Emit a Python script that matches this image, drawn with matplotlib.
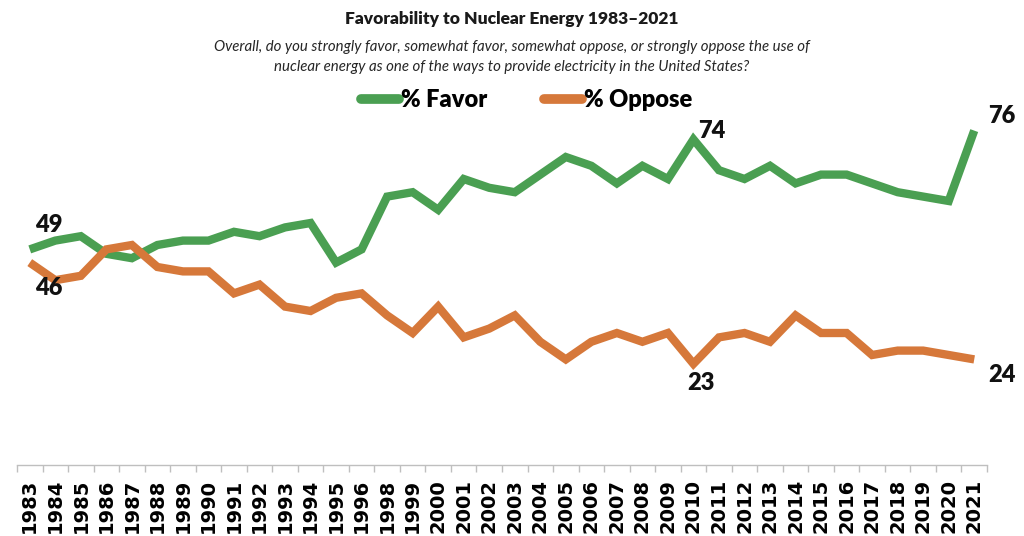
import matplotlib.pyplot as plt
import numpy as np

# Survey years (no 1997 survey)
years = ['1983', '1984', '1985', '1986', '1987', '1988', '1989', '1990', '1991', '1992',
         '1993', '1994', '1995', '1996', '1998', '1999', '2000', '2001', '2002', '2003',
         '2004', '2005', '2006', '2007', '2008', '2009', '2010', '2011', '2012', '2013',
         '2014', '2015', '2016', '2017', '2018', '2019', '2020', '2021']

favor = [49, 51, 52, 48, 47, 50, 51, 51, 53, 52, 54, 55, 46, 49,
         61, 62, 58, 65, 63, 62,
         66, 70, 68, 64, 68, 65, 74, 67, 65, 68, 64, 66, 66, 64, 62, 61, 60, 76]

oppose = [46, 42, 43, 49, 50, 45, 44, 44, 39, 41, 36, 35, 38, 39,
          34, 30, 36, 29, 31, 34,
          28, 24, 28, 30, 28, 30, 23, 29, 30, 28, 34, 30, 30, 25, 26, 26, 25, 24]

green = '#4A9F52'
orange = '#D6783A'

title = 'Favorability to Nuclear Energy 1983\u20132021'
subtitle = ('Overall, do you strongly favor, somewhat favor, somewhat oppose, or strongly oppose the use of\n'
            'nuclear energy as one of the ways to provide electricity in the United States?')

fig = plt.figure(figsize=(10.24, 5.36), dpi=100)
W, H = 1024, 536
ax = fig.add_axes([17 / W, 71 / H, 970 / W, 352 / H])

x = np.arange(len(years))
ax.plot(x, favor, color=green, lw=6, solid_joinstyle='miter', solid_capstyle='butt', label='% Favor')
ax.plot(x, oppose, color=orange, lw=6, solid_joinstyle='miter', solid_capstyle='butt', label='% Oppose')

ax.set_xlim(-0.5, len(years) - 0.5)
ax.set_ylim(0, 80)

for s in ['top', 'right', 'left']:
    ax.spines[s].set_visible(False)
ax.spines['bottom'].set_color('#BFBFBF')
ax.spines['bottom'].set_linewidth(1)
ax.set_yticks([])

ax.set_xticks(x)
ax.set_xticklabels(years, rotation=90, fontsize=14, fontweight='bold', family='DejaVu Sans')
ax.tick_params(axis='x', which='major', length=0, pad=10)
ax.set_xticks(np.arange(-0.5, len(years)), minor=True)
ax.tick_params(axis='x', which='minor', length=5, color='#BFBFBF', width=1)

# data labels
lab = dict(fontsize=17, fontweight='heavy', family='Lato', ha='center', va='center',
           textcoords='offset pixels', color='#111111')
ax.annotate(str(favor[0]), (0, favor[0]), xytext=(19, 24), **lab)
ax.annotate(str(oppose[0]), (0, oppose[0]), xytext=(19, -25), **lab)
i10 = years.index('2010')
ax.annotate(str(favor[i10]), (i10, favor[i10]), xytext=(18, 8), **lab)
ax.annotate(str(oppose[i10]), (i10, oppose[i10]), xytext=(7, -19), **lab)
ax.annotate(str(favor[-1]), (len(years) - 1, favor[-1]), xytext=(28, 15), **lab)
ax.annotate(str(oppose[-1]), (len(years) - 1, oppose[-1]), xytext=(28, -16), **lab)

fig.text(0.5, 1 - 19 / H, title, ha='center', va='center', fontsize=12.5,
         fontweight='heavy', family='Lato', color='#1a1a1a')
fig.text(0.5, 1 - 57 / H, subtitle, ha='center', va='center', fontsize=10.8,
         style='italic', family='Lato', color='#262626', linespacing=1.55)

leg = fig.legend(loc='center', bbox_to_anchor=(527 / W, 1 - 100 / H), ncol=2, frameon=False,
                 handlelength=1.6, handletextpad=0.1, columnspacing=2.4,
                 prop={'family': 'Lato', 'weight': 'heavy', 'size': 17})
for h in leg.get_lines():
    h.set_linewidth(7)
    h.set_solid_capstyle('round')

fig.savefig('out.png', dpi=100)
